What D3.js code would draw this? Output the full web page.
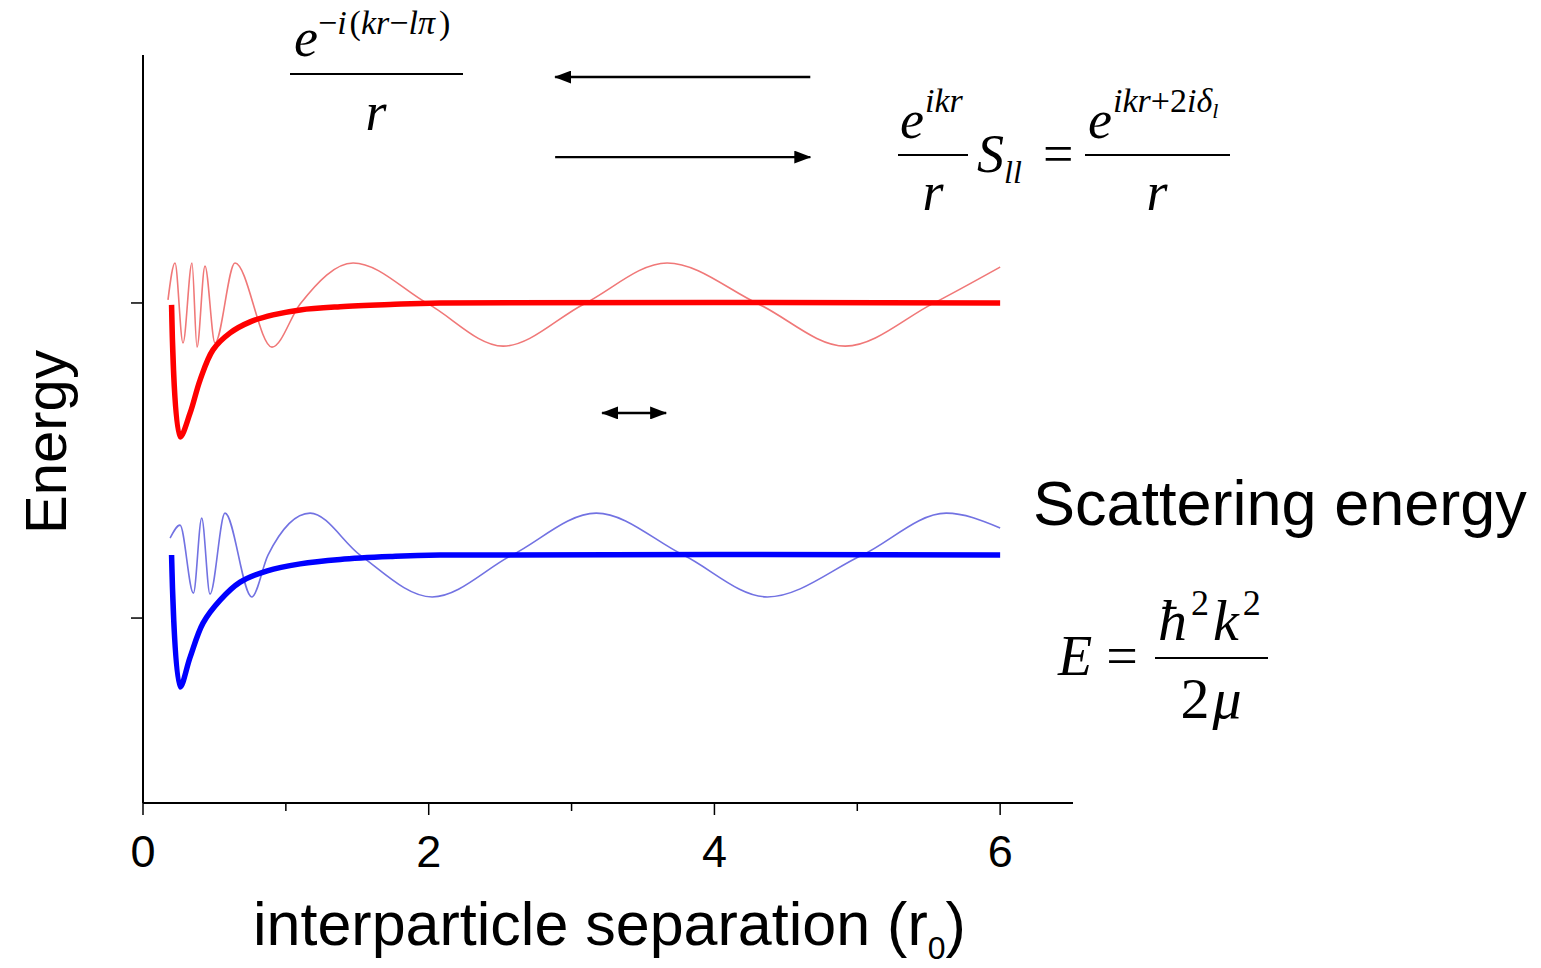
<!DOCTYPE html>
<meta charset="utf-8">
<script src="https://d3js.org/d3.v7.min.js"></script>
<style>
body { margin: 0; background: #fff; }
svg { display: block; }
.sans { font-family: "Liberation Sans", Arial, sans-serif; }
.math { font-family: "Liberation Serif", "Times New Roman", serif; font-style: italic; }
.up { font-style: normal; }
</style>
<svg id="chart" width="1541" height="968"></svg>
<script>
// x in r0, energy in arbitrary units (red threshold = 1, lower tick = 0)
const xTicks = [0, 1, 2, 3, 4, 5, 6];
const xLabels = [0, 2, 4, 6];
const yTicks = [0, 1];

// thick potential curves
const redPotential = [
  [0.20, 0.994], [0.26, 0.575], [0.33, 0.651], [0.40, 0.756], [0.49, 0.851],
  [0.61, 0.905], [0.75, 0.940], [0.91, 0.962], [1.10, 0.978], [1.38, 0.988],
  [1.73, 0.995], [2.08, 1.0], [6.0, 1.0]
];
const bluePotential = [
  [0.20, 0.200], [0.26, -0.219], [0.33, -0.124], [0.42, -0.016], [0.54, 0.057],
  [0.68, 0.114], [0.87, 0.150], [1.10, 0.172], [1.38, 0.186], [1.73, 0.195],
  [2.08, 0.200], [6.0, 0.200]
];

// thin scattering wavefunctions
const redWave = [
  [0.175, 1.010], [0.224, 1.127], [0.280, 0.873], [0.343, 1.127], [0.378, 0.860],
  [0.434, 1.117], [0.504, 0.873], [0.644, 1.127], [0.903, 0.860], [1.10, 0.997],
  [1.471, 1.127], [1.996, 0.997], [2.521, 0.863], [3.088, 0.997], [3.669, 1.127],
  [4.307, 0.997], [4.916, 0.863], [5.525, 0.997], [6.0, 1.114]
];
const blueWave = [
  [0.190, 0.254], [0.259, 0.295], [0.353, 0.079], [0.411, 0.317], [0.469, 0.076],
  [0.574, 0.333], [0.761, 0.067], [0.875, 0.200], [1.170, 0.333], [1.520, 0.200],
  [2.024, 0.067], [2.584, 0.200], [3.173, 0.333], [3.782, 0.200], [4.370, 0.067],
  [5.035, 0.200], [5.623, 0.333], [6.0, 0.286]
];

const svg = d3.select("#chart");

const x = d3.scaleLinear().domain([0, 6.51]).range([143, 1073]);
const y = d3.scaleLinear().domain([-0.587, 1.787]).range([803, 55]);

const line = d3.line()
  .x(d => x(d[0]))
  .y(d => y(d[1]))
  .curve(d3.curveMonotoneX);

// wavefunctions first (behind)
svg.append("path").datum(redWave)
  .attr("d", line).attr("fill", "none")
  .attr("stroke", "#f07878").attr("stroke-width", 1.6);
svg.append("path").datum(blueWave)
  .attr("d", line).attr("fill", "none")
  .attr("stroke", "#7272e2").attr("stroke-width", 1.6);

// potentials
const potLine = d3.line()
  .x(d => x(d[0]))
  .y(d => y(d[1]))
  .curve(d3.curveCatmullRom.alpha(0.5));
svg.append("path").datum(redPotential)
  .attr("d", potLine).attr("fill", "none")
  .attr("stroke", "#ff0000").attr("stroke-width", 5.5)
  .attr("stroke-linejoin", "round");
svg.append("path").datum(bluePotential)
  .attr("d", potLine).attr("fill", "none")
  .attr("stroke", "#0000ff").attr("stroke-width", 5.5)
  .attr("stroke-linejoin", "round");

// axes
const xAxis = svg.append("g").attr("transform", "translate(0,803)");
xAxis.append("line")
  .attr("x1", x(0)).attr("x2", x(6.51))
  .attr("stroke", "#000").attr("stroke-width", 2);
xAxis.selectAll("line.tick").data(xTicks).join("line")
  .attr("class", "tick")
  .attr("x1", d => x(d)).attr("x2", d => x(d))
  .attr("y1", 0).attr("y2", d => d % 2 === 0 ? 12 : 8)
  .attr("stroke", "#000").attr("stroke-width", 1.5);
xAxis.selectAll("text").data(xLabels).join("text")
  .attr("class", "sans")
  .attr("x", d => x(d)).attr("y", 64)
  .attr("text-anchor", "middle")
  .attr("font-size", 45)
  .text(d => d);

const yAxis = svg.append("g").attr("transform", "translate(143,0)");
yAxis.append("line")
  .attr("y1", y(-0.587)).attr("y2", y(1.787))
  .attr("stroke", "#000").attr("stroke-width", 2);
yAxis.selectAll("line.tick").data(yTicks).join("line")
  .attr("class", "tick")
  .attr("y1", d => y(d)).attr("y2", d => y(d))
  .attr("x1", 0).attr("x2", -12)
  .attr("stroke", "#000").attr("stroke-width", 1.5);

// axis titles
const xt = svg.append("text").attr("class", "sans")
  .attr("x", 253).attr("y", 945).attr("font-size", 61);
xt.append("tspan").text("interparticle separation (r");
xt.append("tspan").attr("font-size", 32).attr("dy", 14).text("0");
xt.append("tspan").attr("dy", -14).text(")");

svg.append("text").attr("class", "sans")
  .attr("transform", "translate(66,442) rotate(-90)")
  .attr("text-anchor", "middle")
  .attr("font-size", 58)
  .text("Energy");

svg.append("text").attr("class", "sans")
  .attr("x", 1033).attr("y", 525).attr("font-size", 63)
  .text("Scattering energy");

// arrows
svg.append("defs").append("marker").attr("id", "head")
  .attr("viewBox", "0 0 17 13").attr("refX", 16).attr("refY", 6.5)
  .attr("markerWidth", 17).attr("markerHeight", 13).attr("markerUnits", "userSpaceOnUse")
  .attr("orient", "auto-start-reverse")
  .append("path").attr("d", "M0,0 L17,6.5 L0,13 Z").attr("fill", "#000");

function arrow(x1, y1, x2, y2, both) {
  const l = svg.append("line")
    .attr("x1", x(x1)).attr("y1", y(y1)).attr("x2", x(x2)).attr("y2", y(y2))
    .attr("stroke", "#000").attr("stroke-width", 2.4)
    .attr("marker-end", "url(#head)");
  if (both) l.attr("marker-start", "url(#head)");
}
arrow(4.671, 1.717, 2.885, 1.717, false);
arrow(2.885, 1.463, 4.671, 1.463, false);
arrow(3.214, 0.651, 3.662, 0.651, true);

// equations
function frac(x1, x2, yy) {
  svg.append("line").attr("x1", x1).attr("x2", x2).attr("y1", yy).attr("y2", yy)
    .attr("stroke", "#000").attr("stroke-width", 2);
}

// incoming wave
let t = svg.append("text").attr("class", "math").attr("x", 294).attr("y", 56).attr("font-size", 54);
t.append("tspan").text("e");
let s = t.append("tspan").attr("font-size", 34).attr("dy", -22);
s.append("tspan").attr("class", "up").text("\u2212");
s.append("tspan").text("i");
s.append("tspan").attr("class", "up").attr("dx", 3).text("(");
s.append("tspan").text("kr");
s.append("tspan").attr("class", "up").text("\u2212");
s.append("tspan").text("l\u03c0");
s.append("tspan").attr("class", "up").attr("dx", 4).text(")");
frac(290, 463, 74);
svg.append("text").attr("class", "math").attr("x", 376).attr("y", 130)
  .attr("text-anchor", "middle").attr("font-size", 54).text("r");

// outgoing wave
t = svg.append("text").attr("class", "math").attr("x", 900).attr("y", 138).attr("font-size", 54);
t.append("tspan").text("e");
t.append("tspan").attr("font-size", 34).attr("dy", -26).attr("dx", 1).text("ikr");
frac(898, 968, 155);
svg.append("text").attr("class", "math").attr("x", 933).attr("y", 210)
  .attr("text-anchor", "middle").attr("font-size", 54).text("r");
t = svg.append("text").attr("class", "math").attr("x", 977).attr("y", 172).attr("font-size", 54);
t.append("tspan").text("S");
t.append("tspan").attr("font-size", 32).attr("dy", 11).text("ll");
svg.append("text").attr("class", "math up").attr("x", 1043).attr("y", 172)
  .attr("font-size", 54).text("=");
frac(1085, 1230, 155);
t = svg.append("text").attr("class", "math").attr("x", 1088).attr("y", 138).attr("font-size", 54);
t.append("tspan").text("e");
s = t.append("tspan").attr("font-size", 34).attr("dy", -26).attr("dx", 1);
s.append("tspan").text("ikr");
s.append("tspan").attr("class", "up").text("+2");
s.append("tspan").text("i\u03b4");
t.append("tspan").attr("font-size", 22).attr("dy", 6).text("l");
svg.append("text").attr("class", "math").attr("x", 1157).attr("y", 210)
  .attr("text-anchor", "middle").attr("font-size", 54).text("r");

// scattering energy
t = svg.append("text").attr("class", "math").attr("x", 1058).attr("y", 675).attr("font-size", 56);
t.append("tspan").text("E");
t.append("tspan").attr("class", "up").attr("dx", 14).text("=");
frac(1155, 1268, 658);
t = svg.append("text").attr("class", "math").attr("x", 1158).attr("y", 640).attr("font-size", 58);
t.append("tspan").text("\u0127");
t.append("tspan").attr("class", "up").attr("font-size", 36).attr("dy", -25).attr("dx", 4).text("2");
t.append("tspan").attr("dy", 25).attr("dx", 4).text("k");
t.append("tspan").attr("class", "up").attr("font-size", 36).attr("dy", -25).attr("dx", 4).text("2");
t = svg.append("text").attr("class", "math").attr("x", 1211).attr("y", 718)
  .attr("text-anchor", "middle").attr("font-size", 58);
t.append("tspan").attr("class", "up").text("2");
t.append("tspan").attr("dx", 3).text("\u03bc");
</script>
